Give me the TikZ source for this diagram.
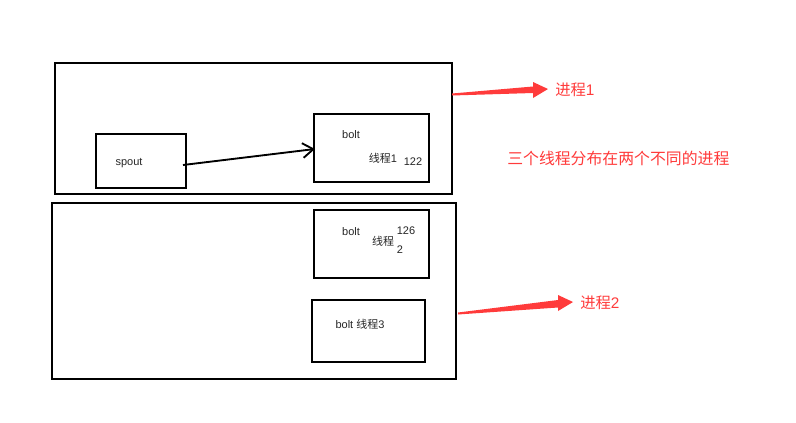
\documentclass[tikz,border=0pt]{standalone}
\usepackage{fontspec}
\usetikzlibrary{arrows.meta}
\setmainfont{Liberation Sans}
\newfontfamily\cjk{Noto Sans CJK SC}
\definecolor{redc}{HTML}{FF3B3B}
\begin{document}
\begin{tikzpicture}[x=0.75pt,y=-0.75pt,
  box/.style={draw=black,line width=1.5pt},
  lbl/.style={inner sep=0pt,font=\fontsize{8.25}{9}\selectfont,text=black!85},
  rlbl/.style={inner sep=0pt,text=redc},
  redarrow/.style={fill=redc,draw=none}]
\useasboundingbox[fill=white] (0,0) rectangle (796,422);
% process boxes
\draw[box] (55,63) rectangle (452,194);
\draw[box] (52,203) rectangle (456,379);
% inner boxes
\draw[box] (96,134) rectangle (186,188);
\draw[box] (314,114) rectangle (429,182);
\draw[box] (314,210) rectangle (429,278);
\draw[box] (312,300) rectangle (425,362);
\coordinate (s) at (183,165);
\coordinate (b) at (315,149);
\draw[line width=1.4pt,-{Straight Barb[length=8pt,width=11pt,line width=1.4pt]}] (s) -- (b);
% labels
\node[lbl] (sp) at (129,163) {spout};
\node[lbl] (b1) at (351,135) {bolt};
\node[lbl] (t1) at (383,158) {{\cjk 线程}1};
\node[lbl] (n1) at (413,162) {122};
\node[lbl] (b2) at (351,232) {bolt};
\node[lbl] (t2) at (383,241) {\cjk 线程};
\node[lbl] (n2) at (406,231) {126};
\node[lbl] (n22) at (400,250) {2};
\node[lbl] (b3) at (360,324) {bolt {\cjk 线程}3};
% red arrows
\fill[redarrow] (452,93.5) -- (533,86.5) -- (533,82) -- (548,89) -- (533,98) -- (533,93) -- (452,95.5) -- cycle;
\fill[redarrow] (458,312.5) -- (558,300) -- (558,295) -- (573,302) -- (558,311) -- (558,307.5) -- (458,314.5) -- cycle;
\node[rlbl,anchor=west,font=\fontsize{11.5}{13}\selectfont] (p1) at (555,90) {{\cjk 进程}1};
\node[rlbl,anchor=west,font=\fontsize{11.5}{13}\selectfont] (p2) at (580,303) {{\cjk 进程}2};
\node[rlbl,anchor=west,font=\fontsize{11.9}{13}\cjk\selectfont] (d) at (507,158) {三个线程分布在两个不同的进程};
\end{tikzpicture}
\end{document}
